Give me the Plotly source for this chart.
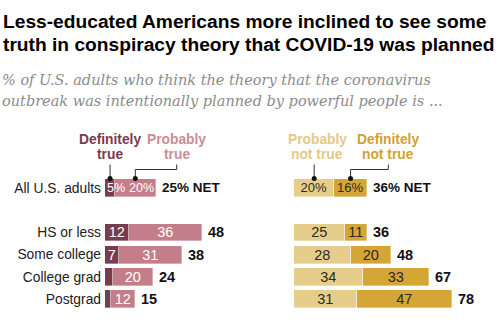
import plotly.graph_objects as go

# Survey shares (%), by education
groups = ["All U.S. adults", "HS or less", "Some college", "College grad", "Postgrad"]
definitely_true = [5, 12, 7, 4, 3]
probably_true = [20, 36, 31, 20, 12]
net_true = [25, 48, 38, 24, 15]
probably_not_true = [20, 25, 28, 34, 31]
definitely_not_true = [16, 11, 20, 33, 47]
net_not_true = [36, 36, 48, 67, 78]

title_lines = [
    "Less-educated Americans more inclined to see some",
    "truth in conspiracy theory that COVID-19 was planned",
]
subtitle_lines = [
    "% of U.S. adults who think the theory that the coronavirus",
    "outbreak was intentionally planned by powerful people is ...",
]

W, H = 503, 325
SCALE = 2.02          # pixels per percentage point
LEFT_X0, RIGHT_X0 = 105, 294
ROW_PITCH, FIRST_ROW = 22.2, 188

C_DT, C_PT = "#773c4d", "#c47e8a"
C_PN, C_DN = "#e6cd8b", "#d4a636"
T_DT, T_PT = "#7a3a4e", "#c98d98"
T_PN, T_DN = "#e3c987", "#cfa232"

FONT = "Liberation Sans"
SPACER = " "
rows = [groups[0], SPACER] + groups[1:]


def py(px):
    return 1 - px / H


def px_x(px):
    return px / W


def seg_text(vals, first="pct", min_show=5):
    out = []
    for i, v in enumerate(vals):
        if v < min_show or (i == 0 and first == "none"):
            out.append("")
        elif i == 0:
            out.append(f"{v}%")
        else:
            out.append(str(v))
    return out


fig = go.Figure()


def add_bar(vals, color, txtcolor, xaxis, yaxis, first="pct"):
    sizes = [13] + [14.5] * (len(vals) - 1)
    fig.add_trace(go.Bar(
        y=groups, x=vals, orientation="h",
        marker=dict(color=color, line=dict(width=0.6, color="rgba(255,255,255,0.6)")),
        text=seg_text(vals, first), textposition="inside", insidetextanchor="middle",
        textangle=0, textfont=dict(family=FONT, size=sizes, color=txtcolor),
        width=0.81, xaxis=xaxis, yaxis=yaxis, hoverinfo="skip", showlegend=False,
    ))


add_bar(definitely_true, C_DT, "white", "x", "y", first="none")
add_bar(probably_true, C_PT, "white", "x", "y", first="none")
add_bar(probably_not_true, C_PN, "#2b2b2b", "x2", "y2")
add_bar(definitely_not_true, C_DN, "#2b2b2b", "x2", "y2")

annotations = []
shapes = []

# Narrow first-row segments on the left: labels pinned to the bar ends
annotations.append(dict(x=0, y=groups[0], xref="x", yref="y", text=f"{definitely_true[0]}%",
                        xanchor="left", xshift=-0.5, showarrow=False,
                        font=dict(family=FONT, size=12.5, color="white")))
annotations.append(dict(x=net_true[0], y=groups[0], xref="x", yref="y",
                        text=f"{probably_true[0]}%", xanchor="right", xshift=0.5,
                        showarrow=False, font=dict(family=FONT, size=12.5, color="white")))

# NET totals
for i, (g, a, b) in enumerate(zip(groups, net_true, net_not_true)):
    la = f"{a}% NET" if i == 0 else str(a)
    lb = f"{b}% NET" if i == 0 else str(b)
    sz = 13.5 if i == 0 else 14.5
    annotations.append(dict(x=a, y=g, xref="x", yref="y", text=f"<b>{la}</b>",
                            xanchor="left", xshift=4, showarrow=False,
                            font=dict(family=FONT, size=sz, color="#111")))
    annotations.append(dict(x=b, y=g, xref="x2", yref="y2", text=f"<b>{lb}</b>",
                            xanchor="left", xshift=4, showarrow=False,
                            font=dict(family=FONT, size=sz, color="#111")))

# Title and subtitle
for k, line in enumerate(title_lines):
    annotations.append(dict(x=px_x(1), y=py(21 + 24 * k), xref="paper", yref="paper",
                            text=f"<b>{line}</b>", xanchor="left", yanchor="middle",
                            showarrow=False, font=dict(family=FONT, size=19.2, color="#000")))
for k, line in enumerate(subtitle_lines):
    annotations.append(dict(x=px_x(0), y=py(80 + 21 * k), xref="paper", yref="paper",
                            text=f"<i>{line}</i>", xanchor="left", yanchor="middle",
                            showarrow=False,
                            font=dict(family="DejaVu Serif", size=14.5, color="#8c8c8c")))

# Segment legend with leader lines pointing at the first row
dot_y = FIRST_ROW - 9.5
elbow_y = 169.5
line_top = 164.5
legend_items = [
    # two text lines, colour, x-axis, dot x (segment centre), label x
    (("Definitely", "true"), T_DT, "x", definitely_true[0] / 2, definitely_true[0] / 2),
    (("Probably", "true"), T_PT, "x", definitely_true[0] + probably_true[0] / 2, 35.5),
    (("Probably", "not true"), T_PN, "x2", probably_not_true[0] / 2, 11.5),
    (("Definitely", "not true"), T_DN, "x2",
     probably_not_true[0] + definitely_not_true[0] / 2, 46.7),
]
for (l1, l2), col, xr, dx, lx in legend_items:
    for k, txt in enumerate((l1, l2)):
        annotations.append(dict(x=lx, y=py(139 + 15.5 * k), xref=xr, yref="paper",
                                text=f"<b>{txt}</b>", xanchor="center", yanchor="middle",
                                showarrow=False,
                                font=dict(family=FONT, size=13.8, color=col)))
    line = dict(color="#333", width=1)
    if abs(lx - dx) < 2:
        shapes.append(dict(type="line", xref=xr, yref="paper", x0=dx, x1=dx,
                           y0=py(dot_y), y1=py(line_top), line=line))
    else:
        shapes.append(dict(type="line", xref=xr, yref="paper", x0=dx, x1=dx,
                           y0=py(dot_y), y1=py(elbow_y), line=line))
        shapes.append(dict(type="line", xref=xr, yref="paper", x0=dx, x1=lx,
                           y0=py(elbow_y), y1=py(elbow_y), line=line))
        shapes.append(dict(type="line", xref=xr, yref="paper", x0=lx, x1=lx,
                           y0=py(elbow_y), y1=py(line_top), line=line))
    shapes.append(dict(type="circle", xref=xr, yref="paper", xsizemode="pixel",
                       ysizemode="pixel", xanchor=dx, yanchor=py(dot_y),
                       x0=-2.5, x1=2.5, y0=-2.5, y1=2.5,
                       fillcolor="#111", line=dict(width=0)))

y_dom = [py(FIRST_ROW + (len(rows) - 0.5) * ROW_PITCH), py(FIRST_ROW - 0.5 * ROW_PITCH)]
hidden_x = dict(showgrid=False, zeroline=False, showticklabels=False, showline=False)

fig.update_layout(
    width=W, height=H, margin=dict(l=0, r=0, t=0, b=0),
    paper_bgcolor="white", plot_bgcolor="white",
    barmode="stack", bargap=0,
    uniformtext=dict(minsize=13, mode="show"),
    xaxis=dict(domain=[px_x(LEFT_X0), px_x(LEFT_X0 + 50 * SCALE)], range=[0, 50],
               anchor="y", **hidden_x),
    xaxis2=dict(domain=[px_x(RIGHT_X0), px_x(RIGHT_X0 + 100 * SCALE)], range=[0, 100],
                anchor="y2", **hidden_x),
    yaxis=dict(domain=y_dom, type="category", categoryorder="array", categoryarray=rows,
               range=[len(rows) - 0.5, -0.5], anchor="x", showgrid=False, zeroline=False,
               ticks="", ticklabelstandoff=3,
               tickfont=dict(family=FONT, size=13.8, color="#222")),
    yaxis2=dict(domain=y_dom, type="category", categoryorder="array", categoryarray=rows,
                range=[len(rows) - 0.5, -0.5], anchor="x2", showgrid=False, zeroline=False,
                showticklabels=False),
    annotations=annotations, shapes=shapes,
)

fig.write_html("out.html")
